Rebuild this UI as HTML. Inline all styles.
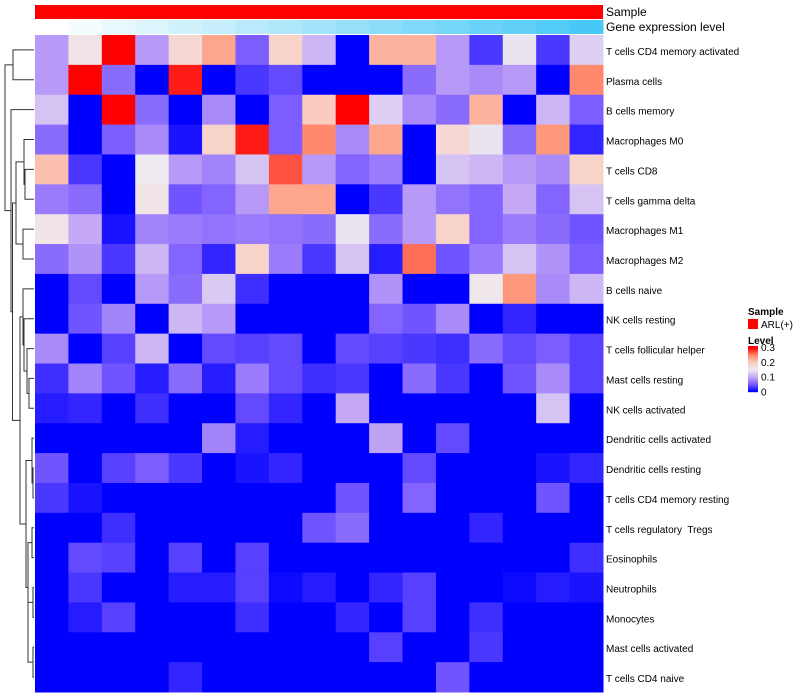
<!DOCTYPE html>
<html><head><meta charset="utf-8">
<style>
body{margin:0;background:#fff;}
svg{display:block;font-family:"Liberation Sans",sans-serif;}
text{white-space:pre;}
</style></head>
<body>
<svg id="chart" width="800" height="700"></svg>
<script>
const rowLabels=["T cells CD4 memory activated","Plasma cells","B cells memory","Macrophages M0","T cells CD8","T cells gamma delta","Macrophages M1","Macrophages M2","B cells naive","NK cells resting","T cells follicular helper","Mast cells resting","NK cells activated","Dendritic cells activated","Dendritic cells resting","T cells CD4 memory resting","T cells regulatory  Tregs","Eosinophils","Neutrophils","Monocytes","Mast cells activated","T cells CD4 naive"];
const row0=[0.09,0.16,0.3,0.09,0.18,0.23,0.05,0.19,0.11,0,0.22,0.22,0.09,0.03,0.145,0.03,0.13];
const row1=[0.09,0.3,0.06,0,0.29,0,0.03,0.04,0,0,0,0.06,0.09,0.08,0.09,0,0.25];
const row2=[0.12,0,0.3,0.06,0,0.08,0,0.05,0.2,0.3,0.13,0.08,0.06,0.22,0,0.11,0.05];
const row3=[0.06,0,0.05,0.08,0.01,0.19,0.29,0.05,0.25,0.08,0.23,0,0.18,0.145,0.06,0.24,0.02];
const row4=[0.21,0.03,0,0.15,0.09,0.075,0.12,0.27,0.09,0.055,0.07,0,0.12,0.11,0.09,0.08,0.19];
const row5=[0.07,0.06,0,0.16,0.045,0.055,0.09,0.23,0.23,0,0.03,0.09,0.065,0.055,0.1,0.055,0.12];
const row6=[0.16,0.1,0.01,0.075,0.07,0.065,0.07,0.065,0.06,0.145,0.06,0.09,0.19,0.055,0.07,0.06,0.045];
const row7=[0.06,0.085,0.03,0.11,0.055,0.02,0.19,0.07,0.03,0.12,0.015,0.26,0.045,0.07,0.12,0.085,0.05];
const row8=[0,0.04,0,0.09,0.06,0.125,0.025,0,0,0,0.085,0,0,0.155,0.24,0.08,0.11];
const row9=[0,0.045,0.075,0,0.11,0.09,0,0,0,0,0.055,0.045,0.08,0,0.02,0,0];
const row10=[0.08,0,0.035,0.11,0,0.04,0.035,0.04,0,0.04,0.035,0.03,0.025,0.06,0.04,0.05,0.035];
const row11=[0.025,0.075,0.045,0.015,0.06,0.015,0.07,0.04,0.025,0.03,0,0.06,0.03,0,0.045,0.08,0.035];
const row12=[0.015,0.02,0,0.025,0,0,0.04,0.02,0,0.1,0,0,0,0,0,0.12,0];
const row13=[0,0,0,0,0,0.075,0.015,0,0,0,0.095,0,0.04,0,0,0,0];
const row14=[0.045,0,0.035,0.05,0.03,0,0.01,0.02,0,0,0,0.04,0,0,0,0.01,0.02];
const row15=[0.03,0.01,0,0,0,0,0,0,0,0.045,0,0.055,0,0,0,0.045,0];
const row16=[0,0,0.025,0,0,0,0,0,0.045,0.06,0,0,0,0.02,0,0,0];
const row17=[0,0.04,0.035,0,0.035,0,0.035,0,0,0,0,0,0,0,0,0,0.025];
const row18=[0,0.03,0,0,0.015,0.015,0.035,0.005,0.015,0,0.02,0.035,0,0,0.005,0.015,0.01];
const row19=[0,0.015,0.035,0,0,0,0.025,0,0,0.02,0,0.035,0,0.025,0,0,0];
const row20=[0,0,0,0,0,0,0,0,0,0,0.035,0,0,0.03,0,0,0];
const row21=[0,0,0,0,0.02,0,0,0,0,0,0,0,0.045,0,0,0,0];
const values=[row0,row1,row2,row3,row4,row5,row6,row7,row8,row9,row10,row11,row12,row13,row14,row15,row16,row17,row18,row19,row20,row21];
const expressionLevel=[0,1,2,3,4,5,6,7,8,9,10,11,12,13,14,15,16];
const legendTicks=[0,0.1,0.2,0.3];

const NS="http://www.w3.org/2000/svg";
const svg=document.getElementById('chart');
function el(tag,attrs,parent){const e=document.createElementNS(NS,tag);for(const k in attrs)e.setAttribute(k,attrs[k]);(parent||svg).appendChild(e);return e;}
const X0=35,X1=603,Y0=35,Y1=692;
const nC=row0.length,nR=values.length;
const cw=(X1-X0)/nC,rh=(Y1-Y0)/nR;
const xPos=c=>X0+c*cw;
const yPos=r=>Y0+r*rh;
const stops=[[0,[0,0,255]],[0.33,[123,92,255]],[0.66,[196,168,245]],[1,[238,234,240]]];
const stopsR=[[0,[238,234,240]],[0.33,[250,205,192]],[0.66,[255,140,110]],[1,[255,0,0]]];
function interp(s,t){t=Math.max(0,Math.min(1,t));for(let i=1;i<s.length;i++){if(t<=s[i][0]){const a=s[i-1],b=s[i];const f=(t-a[0])/(b[0]-a[0]);return 'rgb('+a[1].map((v,k)=>Math.round(v+(b[1][k]-v)*f)).join(',')+')';}}return 'rgb('+s[s.length-1][1].join(',')+')';}
function color(v){return v<0.15?interp(stops,v/0.15):interp(stopsR,(v-0.15)/0.15);}

const sb=el('rect',{x:X0,y:5,width:X1-X0,height:14,fill:'#ff0000'});


expressionLevel.forEach((lv,c)=>{
  const f=lv/(expressionLevel.length-1);
  const r=Math.round(255+(72-255)*f),g=Math.round(255+(200-255)*f),b=Math.round(255+(246-255)*f);
  const e=el('rect',{x:xPos(c),y:20,width:cw+0.5,height:14,fill:`rgb(${r},${g},${b})`});
  
  
});
const t1=el('text',{x:606,y:16,'font-size':12,fill:'#000'});t1.textContent='Sample';


const t2=el('text',{x:606,y:31,'font-size':12,fill:'#000'});t2.textContent='Gene expression level';



values.forEach((row,r)=>row.forEach((v,c)=>{
  const e=el('rect',{x:xPos(c),y:yPos(r),width:cw+0.5,height:rh+0.5,fill:color(v)});
  
  
}));
rowLabels.forEach((l,r)=>{
  const t=el('text',{x:606,y:yPos(r)+rh/2+5,'font-size':10,fill:'#000'});t.textContent=l;
  
  
});

function L(i){return {leaf:i};}
function N(x,a,b){return {x:x,a:a,b:b};}
const tree=N(5,N(13,L(0),L(1)),
  N(11,L(2),N(12.5,
    N(16,N(24,L(3),N(25,L(4),L(5))),N(23,L(6),L(7))),
    N(20,N(23,L(8),N(24,L(9),N(27,L(10),N(29,L(11),L(12))))),
      N(26,N(32,L(13),N(33,L(14),L(15))),N(28,N(32,L(16),L(17)),N(28,N(33,L(18),L(19)),N(33,L(20),L(21)))))))));
const dg=el('g',{stroke:'#333','stroke-width':1,fill:'none'});


function draw(n){
  if(n.leaf!==undefined)return {x:34,y:yPos(n.leaf)+rh/2};
  const a=draw(n.a),b=draw(n.b);
  el('path',{d:`M${a.x},${a.y}H${n.x}V${b.y}H${b.x}`},dg);
  return {x:n.x,y:(a.y+b.y)/2};
}
draw(tree);

const lg=el('g',{});


const ls=el('text',{x:748,y:315,'font-size':10,'font-weight':'bold'},lg);ls.textContent='Sample';
el('rect',{x:748,y:319,width:10,height:10,fill:'#ff0000'},lg);
const la=el('text',{x:761,y:328,'font-size':10},lg);la.textContent='ARL(+)';


const lv=el('text',{x:748,y:344,'font-size':10,'font-weight':'bold'},lg);lv.textContent='Level';
const gy0=346,gy1=392;
for(let i=0;i<46;i++){
  const v=0.31*(1-i/45);
  el('rect',{x:748,y:gy0+i,width:10,height:1.2,fill:color(v)},lg);
}
legendTicks.forEach(t=>{
  const y=gy1-(t/0.31)*(gy1-gy0);
  const tx=el('text',{x:761,y:y+3.5,'font-size':10},lg);tx.textContent=t;
  
  
});
</script>
</body></html>
